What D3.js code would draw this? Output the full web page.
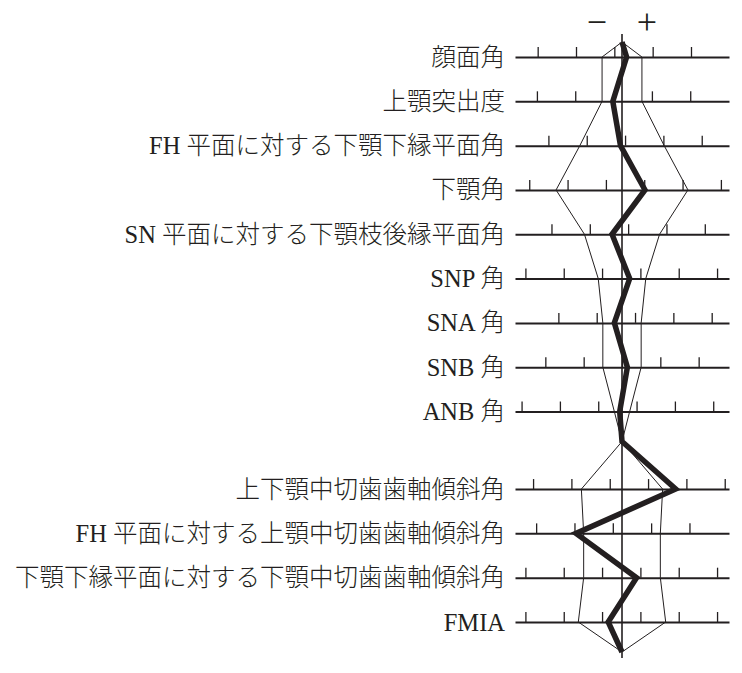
<!DOCTYPE html>
<html>
<head>
<meta charset="utf-8">
<script src="https://cdn.jsdelivr.net/npm/d3@7"></script>
<style>
  body { margin: 0; background: #fff; }
  .label { font-family: "Liberation Serif", "Noto Sans CJK JP", serif; font-weight: 300; font-size: 24.5px; fill: #231f20; }
  .sign { font-family: "Liberation Serif", serif; font-size: 36px; fill: #231f20; }
</style>
</head>
<body>
<div id="chart"></div>
<script>
// items, top block then bottom block
const rowNames = [
  '顔面角', '上顎突出度', 'FH 平面に対する下顎下縁平面角', '下顎角',
  'SN 平面に対する下顎枝後縁平面角', 'SNP 角', 'SNA 角', 'SNB 角', 'ANB 角',
  '上下顎中切歯歯軸傾斜角', 'FH 平面に対する上顎中切歯歯軸傾斜角',
  '下顎下縁平面に対する下顎中切歯歯軸傾斜角', 'FMIA'
];
const rowGroup = [0, 0, 0, 0, 0, 0, 0, 0, 0, 1, 1, 1, 1];

// norm (mean, SD) in degrees and the patient's values
const normMeans = [86.0, 6.1, 29.6, 122.1, 89.2, 77.6, 83.3, 80.0, 3.1, 126.6, 111.2, 92.6, 57.6];
const normSDs = [2.6, 2.6, 5.5, 8.6, 4.9, 3.1, 2.5, 2.5, 1.0, 5.3, 5.0, 5.0, 5.7];
const patientValues = [86.6, 4.9, 29.4, 125.1, 87.9, 78.6, 82.3, 80.7, 2.8, 133.6, 105.2, 94.5, 55.8];

// scale marks on each row
const rowTicks = [
  [75, 80, 85, 90, 95],
  [-5, 0, 5, 10, 15],
  [20, 25, 30, 35, 40],
  [110, 115, 120, 125, 130, 135],
  [80, 85, 90, 95, 100],
  [65, 70, 75, 80, 85, 90],
  [75, 80, 85, 90, 95],
  [70, 75, 80, 85, 90],
  [-10, -5, 0, 5, 10, 15],
  [115, 120, 125, 130, 135, 140],
  [100, 105, 110, 115, 120],
  [80, 85, 90, 95, 100, 105],
  [45, 50, 55, 60, 65, 70]
];
const signLabels = ['−', '+'];

const width = 742, height = 673;
const cx = 622, halfLine = 107;
const pxPerDeg = 38.33 / 5;
const ink = '#231f20';

const svg = d3.select('#chart')
  .append('svg')
  .attr('width', width)
  .attr('height', height);

// vertical placement: 9 rows, a gap, then 4 rows
const slot = (i) => i + (rowGroup[i] === 1 ? 0.75 : 0);
const y = d3.scaleLinear()
  .domain([0, 12.75])
  .range([57, 622]);

const rows = rowNames.map((name, i) => {
  const span = halfLine / pxPerDeg;
  return {
    name: name,
    y: y(slot(i)),
    x: d3.scaleLinear()
      .domain([normMeans[i] - span, normMeans[i] + span])
      .range([cx - halfLine, cx + halfLine]),
    mean: normMeans[i],
    sd: normSDs[i],
    value: patientValues[i],
    ticks: rowTicks[i]
  };
});

// each row: its own scale line with ticks
rows.forEach(r => {
  const axis = d3.axisTop(r.x)
    .tickValues(r.ticks)
    .tickSize(10)
    .tickSizeOuter(0)
    .tickFormat('');

  const g = svg.append('g')
    .attr('class', 'row-axis')
    .attr('transform', `translate(0, ${r.y})`)
    .call(axis);

  g.select('.domain')
    .attr('stroke', ink)
    .attr('stroke-width', 2);
  g.selectAll('.tick line')
    .attr('stroke', ink)
    .attr('stroke-width', 1.3);

  svg.append('text')
    .attr('class', 'label')
    .attr('x', cx - halfLine - 10)
    .attr('y', r.y)
    .attr('text-anchor', 'end')
    .attr('dominant-baseline', 'central')
    .text(r.name);
});

// centre axis
const topY = rows[0].y - 15;
const midY = rows[8].y + 30;
const bottomY = rows[12].y + 30;

svg.append('line')
  .attr('x1', cx).attr('x2', cx)
  .attr('y1', topY - 8).attr('y2', bottomY + 6)
  .attr('stroke', ink)
  .attr('stroke-width', 1.6);

svg.selectAll('.sign')
  .data(signLabels)
  .enter()
    .append('text')
    .attr('class', 'sign')
    .attr('x', (d, i) => i === 0 ? cx - 25 : cx + 25)
    .attr('y', 22)
    .attr('text-anchor', 'middle')
    .attr('dominant-baseline', 'central')
    .text(d => d);

// build a closed path through the rows, meeting at the centre points
function profile(getX) {
  const pts = [[cx, topY]];
  rows.forEach((r, i) => {
    pts.push([getX(r), r.y]);
    if (i === 8) pts.push([cx, midY]);
  });
  pts.push([cx, bottomY]);
  return pts;
}

const line = d3.line();

const normLines = [
  profile(r => r.x(r.mean - r.sd)),
  profile(r => r.x(r.mean + r.sd))
];

svg.selectAll('.norm-line')
  .data(normLines)
  .enter()
    .append('path')
    .attr('class', 'norm-line')
    .attr('d', line)
    .attr('fill', 'none')
    .attr('stroke', ink)
    .attr('stroke-width', 1);

svg.append('path')
  .datum(profile(r => r.x(r.value)))
  .attr('class', 'patient-line')
  .attr('d', line)
  .attr('fill', 'none')
  .attr('stroke', ink)
  .attr('stroke-width', 5.5)
  .attr('stroke-linejoin', 'miter');
</script>
</body>
</html>
